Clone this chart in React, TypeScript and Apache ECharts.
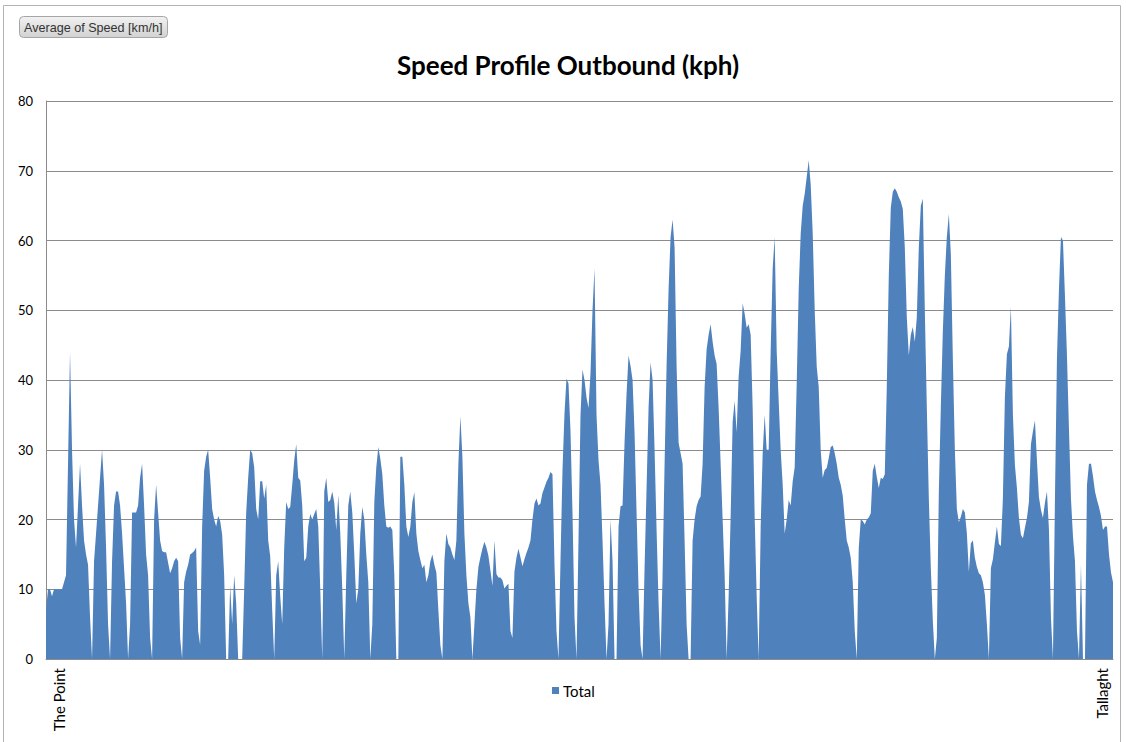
import React, { useEffect, useRef } from "react";
import * as echarts from "echarts";

// Average speed (km/h) along the outbound route, sampled evenly from The Point to Tallaght
const stretch1 = [
  7, 10, 10, 9, 10, 10, 10, 10, 10, 11,
  12, 28, 44, 30, 20, 16, 22, 28, 22, 17,
  15, 13.5, 6, 0, 14, 18, 22, 26, 30, 25,
  16, 5, 0, 14, 22, 24, 24, 22, 18, 13,
  8, 0, 5, 21, 21, 21, 22, 26, 28, 22,
  15, 12, 3, 0, 20, 25, 21, 17, 15.5, 15.3,
  15.3, 13.8, 12.3, 13, 14, 14.5, 14, 3, 0, 11,
  12.5, 13.5, 15, 15.2, 15.5, 16, 4, 2, 19, 27,
  29, 30, 26, 21.5, 20, 19, 20.5, 19.8, 17.8, 12,
  0, 0, 10.5, 5, 12, 8, 0, 0, 0, 10,
  21, 26, 30, 29.5, 27.5, 21.5, 20, 25.5, 25.5, 23,
];
const stretch2 = [
  25, 17, 14.7, 7, 0, 12, 14, 9, 5, 16,
  22.5, 21.5, 21.8, 25, 28.5, 30.8, 26, 25.6, 22, 14,
  14.5, 19, 20.8, 20, 20.8, 21.5, 19, 10, 0, 24,
  26, 22.5, 22.8, 24, 22.4, 18.5, 23.5, 18, 10, 0,
  12, 22, 24, 21, 15, 8, 10, 18, 21.8, 20,
  15, 11, 0, 5, 22.5, 27.5, 30.4, 28.7, 26.5, 22,
  19, 18.8, 19, 18.5, 12, 0, 0, 29, 29, 25,
  19, 17.5, 19, 22.5, 23.9, 18, 15.5, 14.2, 13, 13.5,
  11, 12, 14, 15, 13.5, 12.4, 7, 2, 0, 14,
  18, 16.5, 16, 15, 14.2, 17, 28, 34.8, 29, 18,
  12, 8, 6, 0, 5, 10, 13.2, 14.6, 15.8, 16.8,
];
const stretch3 = [
  16, 14.8, 12.7, 10.5, 17, 12.2, 11.7, 11.7, 11.3, 10.1,
  10.5, 10.8, 4, 3, 12.5, 14.5, 15.8, 14.6, 13.3, 14.3,
  15.2, 16, 17, 20, 22.3, 23, 22, 22.3, 23.8, 24.6,
  25.4, 26, 26.8, 26.5, 13.6, 4, 0, 14, 27, 35.2,
  40.2, 39.5, 32.7, 21, 6, 0, 17, 35, 41.5, 40,
  37.5, 36, 41, 50, 56, 35, 28.5, 25, 17, 8,
  0, 5, 20, 14, 0, 0, 19, 21.9, 22, 31,
  38, 43.5, 42, 40, 32.4, 21, 10, 2, 0, 13,
  24.5, 36, 42.5, 40, 30, 18.5, 8, 0, 12, 28,
  42, 53, 60.5, 63, 59, 42, 31, 29.5, 28, 17,
  5, 0, 0, 17, 20, 21.9, 22.8, 23.3, 28, 39,
];
const stretch4 = [
  44.4, 46.5, 48, 45.5, 43.5, 42.3, 36, 28, 20, 12,
  0, 9, 20.4, 34, 37, 32.5, 40.5, 44.2, 51, 49.5,
  47.5, 48, 46.5, 36, 20.4, 9, 0, 19, 29.5, 35,
  30, 30, 44.2, 56, 60.5, 44.2, 37, 29.9, 25, 18,
  20, 22.8, 22, 25.5, 27.5, 39.5, 53, 61, 65, 66.7,
  69.1, 71.5, 68, 61, 50, 41.9, 39, 29.9, 26, 27.1,
  27.4, 28.8, 30.4, 30.6, 29.5, 28, 26, 25, 23.4, 20,
  17, 16, 14.5, 11, 4, 0, 16, 20, 19.8, 19.3,
  20, 20.3, 20.9, 27, 28, 26.1, 24.5, 26, 25.8, 26.5,
  39, 55, 64.7, 67, 67.5, 67, 66.2, 65.6, 64.5, 59,
  49, 43.5, 46.5, 47.6, 45.5, 49, 59, 65, 66, 50,
];
const stretch5 = [
  36, 23, 13, 5.5, 0, 3, 24, 36.2, 47, 55,
  60.5, 63.8, 58, 43, 30, 21.5, 19.6, 20.4, 21.5, 21,
  18, 12.5, 16.6, 17, 14.5, 13.2, 12.3, 12, 11, 9.2,
  5, 0, 13, 14.3, 16.7, 19, 16.5, 16.2, 23, 37.6,
  43.7, 44.8, 50.5, 35, 27.8, 24.5, 20.2, 17.8, 17.3, 18.8,
  20.2, 22.5, 30.8, 32.6, 34.2, 28.5, 23.2, 21.4, 20.2, 22.4,
  24, 18.6, 6, 0, 23, 43, 53, 60.5, 60, 52,
  43.5, 33, 23, 17.6, 14, 4, 0, 13.5, 0, 0,
  25, 28, 28, 26.2, 24, 22.8, 21.8, 20.5, 18.5, 19,
  19, 15, 12.4, 11,
];

const startStop = "The Point";
const endStop = "Tallaght";
const yTicks = [0, 10, 20, 30, 40, 50, 60, 70, 80];
const seriesName = "Total";
const titleText = "Speed Profile Outbound (kph)";
const fieldButton = "Average of Speed [km/h]";

const speeds = [...stretch1, ...stretch2, ...stretch3, ...stretch4, ...stretch5];
const lastIdx = speeds.length - 1;
const categories = speeds.map((_, i) =>
  i === 0 ? startStop : i === lastIdx ? endStop : ""
);

export default function App() {
  const ref = useRef<HTMLDivElement>(null);

  useEffect(() => {
    if (!ref.current) return;
    const chart = echarts.init(ref.current, undefined, { renderer: "svg" });
    const font = "Lato, 'Open Sans', sans-serif";
    chart.setOption({
      animation: false,
      backgroundColor: "#ffffff",
      title: {
        text: titleText,
        left: 392,
        top: 47,
        textStyle: {
          fontFamily: font,
          fontWeight: "bold",
          fontSize: 26,
          color: "#000",
        },
      },
      legend: {
        data: [seriesName],
        left: 547,
        top: 678,
        icon: "rect",
        itemWidth: 7,
        itemHeight: 7,
        itemGap: 5,
        textStyle: { fontFamily: font, fontSize: 15, color: "#000", padding: [0, 0, 0, -1] },
      },
      grid: { left: 46, right: 13, top: 101, bottom: 83 },
      xAxis: {
        type: "category",
        data: categories,
        boundaryGap: false,
        axisLine: { show: true, lineStyle: { color: "#8c8c8c", width: 1 } },
        axisTick: { show: false },
        splitLine: { show: false },
        axisLabel: {
          interval: (idx: number) => idx === 0 || idx === lastIdx,
          rotate: 90,
          margin: 9,
          fontFamily: font,
          fontSize: 15,
          color: "#000",
          formatter: (v: string) => (v === startStop ? `{a|${v}}` : v === endStop ? `{b|${v}}` : ""),
          rich: {
            a: { fontFamily: font, fontSize: 15, color: "#000", padding: [26, 0, 0, 0] },
            b: { fontFamily: font, fontSize: 15, color: "#000", padding: [0, 0, 22, 0] },
          },
        },
      },
      yAxis: {
        type: "value",
        min: yTicks[0],
        max: yTicks[yTicks.length - 1],
        interval: 10,
        axisLine: { show: true, lineStyle: { color: "#8c8c8c", width: 1 } },
        axisTick: { show: false },
        splitLine: { show: true, lineStyle: { color: "#8c8c8c", width: 1 } },
        axisLabel: { margin: 13, fontFamily: font, fontSize: 13, color: "#000" },
      },
      series: [
        {
          name: seriesName,
          type: "line",
          data: speeds,
          symbol: "none",
          showSymbol: false,
          lineStyle: { width: 0, color: "#4F81BD" },
          itemStyle: { color: "#4F81BD" },
          areaStyle: { color: "#4F81BD", opacity: 1 },
          z: 3,
        },
      ],
      graphic: [
        {
          type: "rect",
          silent: true,
          z: -10,
          shape: { x: 3.5, y: 5.5, width: 1117, height: 745 },
          style: { fill: "none", stroke: "#b4b4b4", lineWidth: 1 },
        },
        {
          type: "group",
          left: 19,
          top: 16,
          children: [
            {
              type: "rect",
              shape: { x: 0.5, y: 0.5, width: 148, height: 21, r: 4 },
              style: {
                fill: new echarts.graphic.LinearGradient(0, 0, 0, 1, [
                  { offset: 0, color: "#f2f2f2" },
                  { offset: 1, color: "#d2d2d2" },
                ]),
                stroke: "#a6a6a6",
                lineWidth: 1,
              },
            },
            {
              type: "text",
              x: 5,
              y: 11.5,
              style: {
                text: fieldButton,
                fontFamily: "'Liberation Sans', 'DejaVu Sans', sans-serif",
                fontSize: 12.6,
                fill: "#333",
                verticalAlign: "middle",
              },
            },
          ],
        },
      ],
    });
    return () => chart.dispose();
  }, []);

  return (
    <div
      ref={ref}
      style={{ position: "fixed", left: 0, top: 0, width: 1126, height: 742, background: "#fff" }}
    />
  );
}
